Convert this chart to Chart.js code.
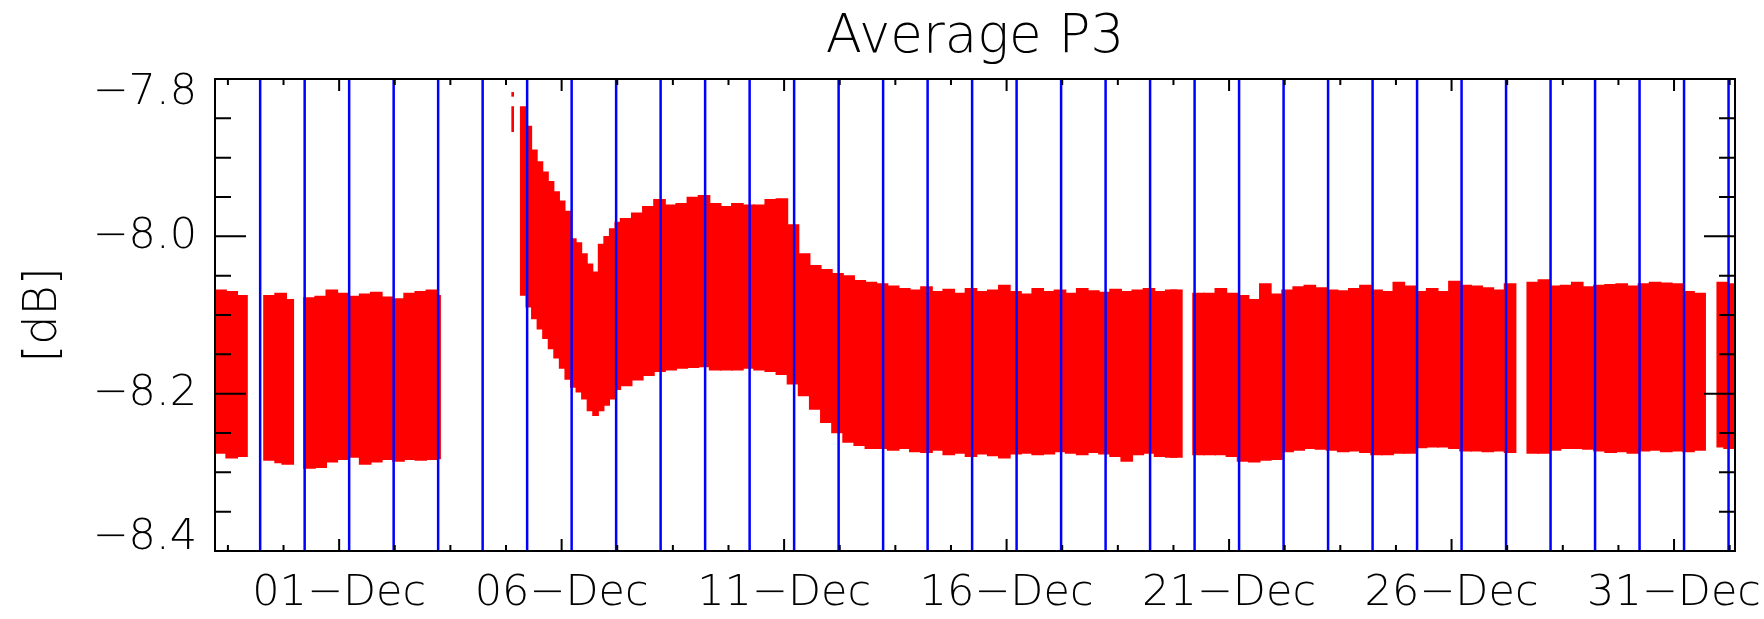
<!DOCTYPE html>
<html>
<head>
<meta charset="utf-8">
<title>Average P3</title>
<script src="https://cdn.jsdelivr.net/npm/chart.js@4.4.0/dist/chart.umd.min.js"></script>
<style>
    html, body { margin: 0; padding: 0; background: #fff; overflow: hidden; }
    #chartBox { width: 1764px; height: 619px; }
</style>
</head>
<body>
<div id="chartBox"><canvas id="p3Chart" width="1764" height="619"></canvas></div>
<script>
// ==================== DATA ====================
// time axis is in days counted from 01-Dec 00:00

const xMin = -2.79;
const xMax = 31.37;
const yMin = -8.4;
const yMax = -7.8;

const xTickDays = [0, 5, 10, 15, 20, 25, 30];
const xTickLabels = ['01−Dec', '06−Dec', '11−Dec', '16−Dec', '21−Dec', '26−Dec', '31−Dec'];
const yTickValues = [-8.4, -8.2, -8.0, -7.8];
const yTickLabels = ['−8.4', '−8.2', '−8.0', '−7.8'];

// daily markers (blue lines)
const markerDays = [
    -1.775, -0.775, 0.225, 1.225, 2.225, 3.225, 4.225, 5.225, 6.225, 7.225,
    8.225, 9.225, 10.225, 11.225, 12.225, 13.225, 14.225, 15.225, 16.225, 17.225,
    18.225, 19.225, 20.225, 21.225, 22.225, 23.225, 24.225, 25.225, 26.225, 27.225,
    28.225, 29.225, 30.225, 31.225
];

// P3 samples in 6-hour bins: centre of bin, highest and lowest sample in it
const binDays = [
    -2.665, -2.415, -2.195,
    -1.565, -1.315, -1.155,
    -0.665, -0.415, -0.165, 0.085, 0.335, 0.585, 0.835, 1.085, 1.335, 1.585, 1.835, 2.085, 2.145,
    6.45,
    6.7, 6.95, 7.2, 7.45, 7.7, 7.95, 8.2, 8.45, 8.7, 8.95,
    9.2, 9.45, 9.7, 9.95, 10.2, 10.45, 10.7, 10.95, 11.2, 11.45,
    11.7, 11.95, 12.2, 12.45, 12.7, 12.95, 13.2, 13.45, 13.7, 13.95,
    14.2, 14.45, 14.7, 14.95, 15.2, 15.45, 15.7, 15.95, 16.2, 16.45,
    16.7, 16.95, 17.2, 17.45, 17.7, 17.95, 18.2, 18.45, 18.7, 18.815,
    19.315, 19.565, 19.815, 20.065, 20.315, 20.565, 20.815, 21.065, 21.315, 21.565,
    21.815, 22.065, 22.315, 22.565, 22.815, 23.065, 23.315, 23.565, 23.815, 24.065,
    24.315, 24.565, 24.815, 25.065, 25.315, 25.565, 25.815, 26.065, 26.315,
    26.825, 27.075, 27.325, 27.575, 27.825, 28.075, 28.325, 28.575, 28.825, 29.075,
    29.325, 29.575, 29.825, 30.075, 30.325, 30.575,
    31.095, 31.25
];

const binHigh = [
    -8.068, -8.070, -8.075,
    -8.075, -8.072, -8.080,
    -8.078, -8.076, -8.068, -8.072, -8.076, -8.073, -8.071, -8.077, -8.079, -8.072, -8.070, -8.068, -8.075,
    -7.977,
    -7.970, -7.962, -7.953, -7.960, -7.958, -7.950, -7.948, -7.958, -7.962, -7.958,
    -7.960, -7.960, -7.953, -7.952, -7.985, -8.022, -8.037, -8.042, -8.047, -8.050,
    -8.056, -8.058, -8.060, -8.063, -8.066, -8.068, -8.064, -8.070, -8.067, -8.072,
    -8.066, -8.070, -8.068, -8.062, -8.070, -8.073, -8.066, -8.070, -8.068, -8.072,
    -8.066, -8.069, -8.071, -8.067, -8.070, -8.068, -8.066, -8.070, -8.068, -8.068,
    -8.072, -8.072, -8.066, -8.072, -8.075, -8.080, -8.060, -8.073, -8.068, -8.064,
    -8.062, -8.065, -8.068, -8.069, -8.066, -8.062, -8.068, -8.070, -8.058, -8.063,
    -8.070, -8.066, -8.070, -8.057, -8.062, -8.063, -8.065, -8.068, -8.060,
    -8.058, -8.055, -8.063, -8.062, -8.058, -8.064, -8.062, -8.061, -8.060, -8.063,
    -8.060, -8.058, -8.059, -8.060, -8.070, -8.072,
    -8.058, -8.060
];

const binLow = [
    -8.276, -8.282, -8.280,
    -8.285, -8.288, -8.290,
    -8.295, -8.294, -8.287, -8.284, -8.281, -8.290, -8.287, -8.284, -8.286, -8.284, -8.285, -8.284, -8.283,
    -8.190,
    -8.183, -8.177, -8.172, -8.170, -8.168, -8.167, -8.166, -8.170, -8.170, -8.170,
    -8.168, -8.170, -8.172, -8.176, -8.188, -8.203, -8.220, -8.237, -8.250, -8.262,
    -8.266, -8.270, -8.270, -8.272, -8.270, -8.274, -8.275, -8.272, -8.278, -8.276,
    -8.280, -8.277, -8.279, -8.282, -8.277, -8.276, -8.278, -8.277, -8.274, -8.276,
    -8.278, -8.275, -8.277, -8.280, -8.286, -8.278, -8.276, -8.280, -8.281, -8.281,
    -8.278, -8.278, -8.278, -8.280, -8.286, -8.287, -8.285, -8.284, -8.274, -8.272,
    -8.270, -8.271, -8.272, -8.274, -8.273, -8.275, -8.278, -8.278, -8.276, -8.276,
    -8.269, -8.268, -8.268, -8.270, -8.273, -8.273, -8.274, -8.273, -8.275,
    -8.276, -8.276, -8.272, -8.270, -8.270, -8.271, -8.273, -8.275, -8.274, -8.276,
    -8.273, -8.272, -8.274, -8.273, -8.274, -8.272,
    -8.268, -8.270
];

// the jump on 05-Dec and the decay after it, in 3-hour bins
const fineDays = [
    4.1375, 4.2625, 4.3875, 4.5125, 4.6375, 4.7625, 4.8875, 5.0125, 5.1375,
    5.2625, 5.3875, 5.5125, 5.6375, 5.7625, 5.8875, 6.0125, 6.1375, 6.2625
];
const fineHigh = [
    -7.835, -7.860, -7.890, -7.905, -7.918, -7.930, -7.943, -7.955, -7.968,
    -8.003, -8.008, -8.022, -8.035, -8.045, -8.010, -8.000, -7.990, -7.982
];
const fineLow = [
    -8.075, -8.090, -8.105, -8.118, -8.130, -8.143, -8.155, -8.168, -8.182,
    -8.192, -8.198, -8.207, -8.222, -8.228, -8.222, -8.215, -8.207, -8.195
];

// isolated samples just before the jump
const spikeDays = [3.9, 3.9];
const spikeHigh = [-7.817, -7.835];
const spikeLow = [-7.822, -7.867];

// ==================== CHART ====================

const FONT = 'DejaVu Sans';
const RED = 'rgb(255, 0, 0)';

// frame and inward ticks on all four sides
const frameTicks = {
    id: 'frameTicks',
    afterDatasetsDraw(chart) {
        const { ctx, chartArea: area } = chart;
        const x = chart.scales.x;
        const y = chart.scales.y;

        ctx.save();
        ctx.strokeStyle = '#000';
        ctx.lineWidth = 2;
        ctx.beginPath();

        // x: minor tick every 1.25 days, long ones at the labels
        for (let i = -2; i * 1.25 <= xMax; i++) {
            const d = i * 1.25;
            if (d < xMin) continue;
            const px = x.getPixelForValue(d);
            const len = xTickDays.includes(d) ? 12 : 6;
            ctx.moveTo(px, area.bottom);
            ctx.lineTo(px, area.bottom - len);
            ctx.moveTo(px, area.top);
            ctx.lineTo(px, area.top + len);
        }

        // y: minor tick every 0.05 dB
        for (let i = 0; i <= 12; i++) {
            const v = yMin + i * 0.05;
            const py = y.getPixelForValue(v);
            const major = yTickValues.some(t => Math.abs(t - v) < 1e-6);
            const len = major ? 31 : 16;
            ctx.moveTo(area.left, py);
            ctx.lineTo(area.left + len, py);
            ctx.moveTo(area.right, py);
            ctx.lineTo(area.right - len, py);
        }
        ctx.stroke();

        ctx.strokeRect(area.left, area.top, area.right - area.left, area.bottom - area.top);
        ctx.restore();
    }
};

function buildMarkerData() {
    const pts = [];
    markerDays.forEach(d => {
        pts.push({ x: d, y: yMin }, { x: d, y: yMax }, { x: d, y: null });
    });
    return pts;
}

function toRanges(days, low, high) {
    return days.map((d, i) => ({ x: d, y: [low[i], high[i]] }));
}

function createP3Chart() {
    const ctx = document.getElementById('p3Chart').getContext('2d');

    return new Chart(ctx, {
        type: 'bar',
        data: {
            datasets: [
                {
                    type: 'line',
                    label: 'markers',
                    data: buildMarkerData(),
                    borderColor: 'rgb(0, 0, 255)',
                    borderWidth: 2.5,
                    pointRadius: 0,
                    spanGaps: false,
                    order: 0
                },
                {
                    label: 'P3',
                    data: toRanges(binDays, binLow, binHigh),
                    backgroundColor: RED,
                    borderWidth: 0,
                    barThickness: 12,
                    grouped: false,
                    order: 1
                },
                {
                    label: 'P3 decay',
                    data: toRanges(fineDays, fineLow, fineHigh),
                    backgroundColor: RED,
                    borderWidth: 0,
                    barThickness: 6,
                    grouped: false,
                    order: 1
                },
                {
                    label: 'P3 isolated',
                    data: toRanges(spikeDays, spikeLow, spikeHigh),
                    backgroundColor: RED,
                    borderWidth: 0,
                    barThickness: 2,
                    grouped: false,
                    order: 1
                }
            ]
        },
        options: {
            responsive: false,
            devicePixelRatio: 1,
            animation: false,
            events: [],
            layout: { padding: { left: 0, right: 29, top: 0, bottom: 0 } },
            plugins: {
                legend: { display: false },
                tooltip: { enabled: false },
                title: {
                    display: true,
                    text: 'Average P3',
                    fullSize: false,
                    color: '#000',
                    font: { family: FONT, size: 53, weight: 200, lineHeight: 1.2 },
                    padding: { top: 6, bottom: 9.4 }
                }
            },
            scales: {
                x: {
                    type: 'linear',
                    min: xMin,
                    max: xMax,
                    offset: false,
                    grid: { display: false, drawTicks: false },
                    border: { display: false },
                    afterBuildTicks: scale => {
                        scale.ticks = xTickDays.map(v => ({ value: v }));
                    },
                    afterFit: scale => {
                        scale.height = 68;
                        scale.paddingLeft = 0;
                        scale.paddingRight = 0;
                    },
                    ticks: {
                        autoSkip: false,
                        maxRotation: 0,
                        minRotation: 0,
                        padding: 17,
                        color: '#000',
                        font: { family: FONT, size: 43, weight: 200, lineHeight: 1.2 },
                        callback: (value, index) => xTickLabels[index]
                    }
                },
                y: {
                    type: 'linear',
                    min: yMin,
                    max: yMax,
                    beginAtZero: false,
                    grid: { display: false, drawTicks: false },
                    border: { display: false },
                    afterBuildTicks: scale => {
                        scale.ticks = yTickValues.map(v => ({ value: v }));
                    },
                    afterFit: scale => {
                        scale.width = 215;
                        scale.paddingTop = 0;
                        scale.paddingBottom = 0;
                    },
                    title: {
                        display: true,
                        text: '[dB]',
                        color: '#000',
                        font: { family: FONT, size: 46, weight: 200, lineHeight: 1.2 },
                        padding: { top: 16, bottom: 0 }
                    },
                    ticks: {
                        padding: 18,
                        color: '#000',
                        // top and bottom labels sit inside the frame
                        font: { family: FONT, size: 43, weight: 200, lineHeight: 0.63 },
                        callback: (value, index, ticks) => {
                            const label = yTickLabels[index];
                            if (index === 0) return [label, ''];
                            if (index === ticks.length - 1) return ['', label];
                            return label;
                        }
                    }
                }
            }
        },
        plugins: [frameTicks]
    });
}

document.addEventListener('DOMContentLoaded', function() {
    createP3Chart();
});
</script>
</body>
</html>
